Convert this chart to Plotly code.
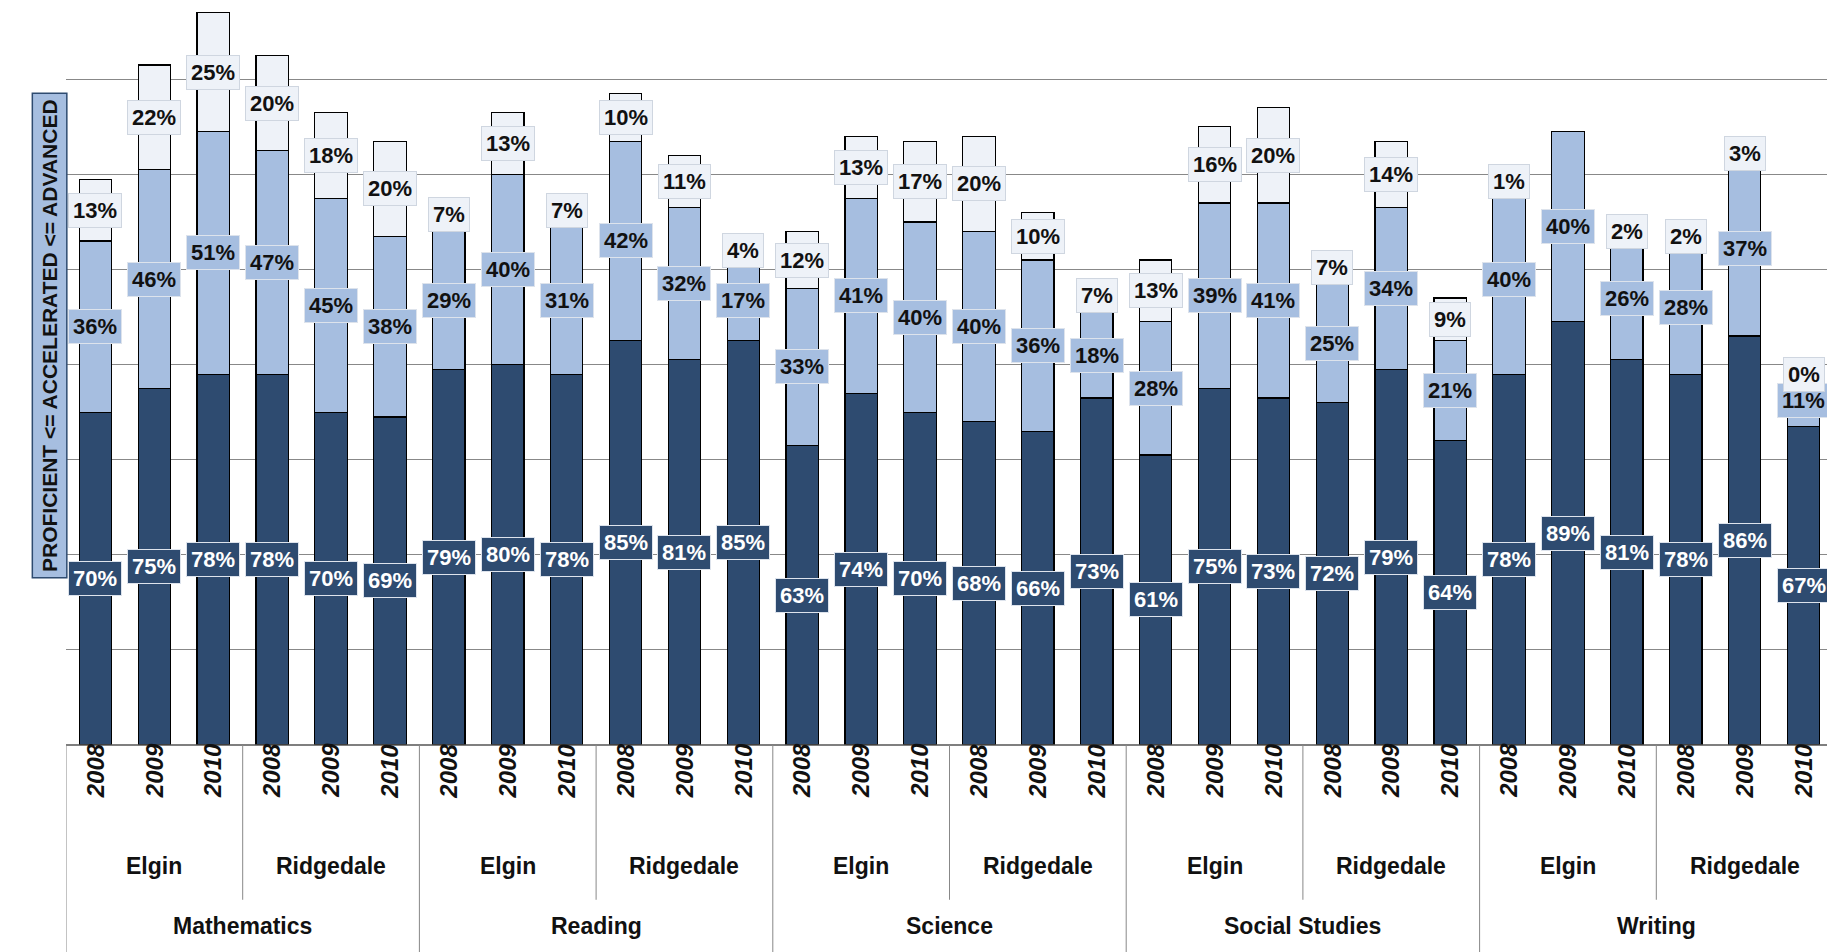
import plotly.graph_objects as go

subjects = ["Mathematics", "Reading", "Science", "Social Studies", "Writing"]
schools = ["Elgin", "Ridgedale"]
years = ["2008", "2009", "2010"]

proficient = [70, 75, 78, 78, 70, 69,
              79, 80, 78, 85, 81, 85,
              63, 74, 70, 68, 66, 73,
              61, 75, 73, 72, 79, 64,
              78, 89, 81, 78, 86, 67]
accelerated = [36, 46, 51, 47, 45, 38,
               29, 40, 31, 42, 32, 17,
               33, 41, 40, 40, 36, 18,
               28, 39, 41, 25, 34, 21,
               40, 40, 26, 28, 37, 11]
advanced = [13, 22, 25, 20, 18, 20,
            7, 13, 7, 10, 11, 4,
            12, 13, 17, 20, 10, 7,
            13, 16, 20, 7, 14, 9,
            1, None, 2, 2, 3, 0]

DARK = "#2e4b70"
MID = "#a6bee0"
LIGHT = "#eef2f8"
n = len(proficient)
x = list(range(n))
adv_vals = [a or 0 for a in advanced]

fig = go.Figure()
for vals, col in [(proficient, DARK), (accelerated, MID), (adv_vals, LIGHT)]:
    fig.add_trace(go.Bar(x=x, y=vals, width=0.55, marker=dict(color=col, line=dict(color="black", width=1.2)),
                         hoverinfo="skip"))

font = dict(family="Liberation Sans, Arial", size=22)
for i in range(n):
    p, a, d = proficient[i], accelerated[i], advanced[i]
    fig.add_annotation(x=i, y=p / 2, text=f"<b>{p}%</b>", showarrow=False, bgcolor=DARK,
                       font=dict(font, color="white"), bordercolor="#dde3ec", borderwidth=1, borderpad=4)
    fig.add_annotation(x=i, y=p + a / 2, text=f"<b>{a}%</b>", showarrow=False, bgcolor=MID,
                       font=dict(font, color="#111"), bordercolor="#dde3ec", borderwidth=1, borderpad=4)
    if d is not None:
        fig.add_annotation(x=i, y=p + a + d / 2, text=f"<b>{d}%</b>", showarrow=False, bgcolor=LIGHT,
                           font=dict(font, color="#111"), bordercolor="#cfd6e0", borderwidth=1, borderpad=4)

# multi-level category axis
line = dict(color="#888", width=1)
fig.add_shape(type="line", xref="x", yref="paper", x0=-0.5, x1=n - 0.5, y0=0, y1=0, line=dict(color="#555", width=1.5))
for i in range(n):
    fig.add_annotation(x=i, y=-0.075, xref="x", yref="paper", text=f"<b><i>{years[i % 3]}</i></b>",
                       textangle=-90, showarrow=False, font=dict(font, size=24, color="#111"))
for g in range(n // 3):
    fig.add_annotation(x=g * 3 + 1, y=-0.185, xref="x", yref="paper", text=f"<b>{schools[g % 2]}</b>",
                       showarrow=False, font=dict(font, size=23, color="#111"))
    b = g * 3 - 0.5
    fig.add_shape(type="line", xref="x", yref="paper", x0=b, x1=b, y0=0,
                  y1=-0.292 if g % 2 == 0 else -0.21, line=line)
fig.add_shape(type="line", xref="x", yref="paper", x0=n - 0.5, x1=n - 0.5, y0=0, y1=-0.292, line=line)
for s, name in enumerate(subjects):
    fig.add_annotation(x=s * 6 + 2.5, y=-0.266, xref="x", yref="paper", text=f"<b>{name}</b>",
                       showarrow=False, font=dict(font, size=23, color="#111"))

fig.add_annotation(xref="paper", yref="paper", x=-0.0195, y=0.555, text="<b>PROFICIENT <= ACCELERATED <= ADVANCED</b>",
                   textangle=-90, showarrow=False, bgcolor=MID, bordercolor="#2e4b70", borderwidth=1.5, borderpad=5,
                   font=dict(font, size=21, color="#111"))

fig.update_layout(
    barmode="stack", showlegend=False, width=1835, height=952,
    paper_bgcolor="white", plot_bgcolor="white",
    margin=dict(l=58, r=10, t=0, b=215),
    xaxis=dict(range=[-0.5, n - 0.5], showticklabels=False, showgrid=False, zeroline=False),
    yaxis=dict(range=[0, 155], dtick=20, showticklabels=False, showgrid=True, gridcolor="#888",
               gridwidth=1, zeroline=False),
)
fig.write_html("out.html")
